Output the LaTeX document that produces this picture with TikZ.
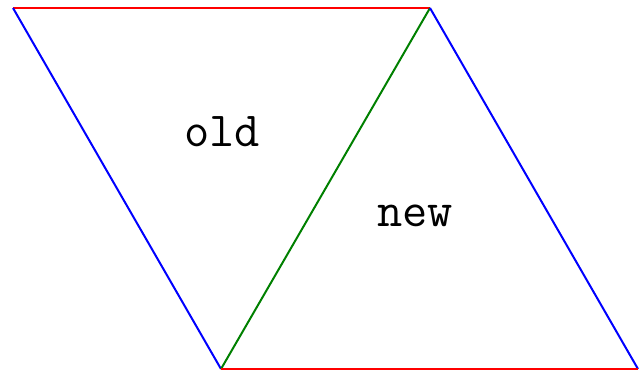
\documentclass[tikz,border=0pt]{standalone}
\usepackage{color}
\usepackage{tikz}
\usetikzlibrary{positioning}
\definecolor{darkgreen}{RGB}{0,128,0}

\begin{document}
\begin{tikzpicture}[
                x=0.5pt, y=-0.5pt,
                edge/.style={line width=1pt},
                label/.style={inner sep=0pt, anchor=base,
                              font=\fontsize{24.5}{28}\selectfont\ttfamily}
            ]
            \useasboundingbox (0,0) rectangle (643,373);
            \coordinate (tl) at (13,8);
            \coordinate (tm) at (430,8);
            \coordinate (bm) at (221,369);
            \coordinate (br) at (638,369);
            \draw[edge, red] (tl) -- (tm);
            \draw[edge, blue] (tl) -- (bm);
            \draw[edge, darkgreen] (tm) -- (bm);
            \draw[edge, blue] (tm) -- (br);
            \draw[edge, red] (bm) -- (br);
            \node[label] (old) at (222,147) {old};
            \node[label] (new) at (415,227) {new};
            \end{tikzpicture}
\end{document}
